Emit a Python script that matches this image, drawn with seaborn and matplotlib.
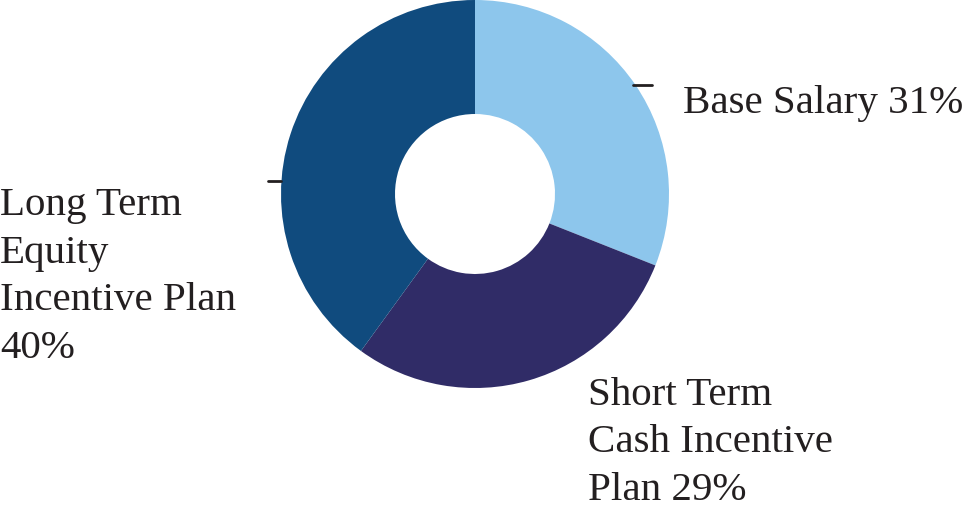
import matplotlib.pyplot as plt
import seaborn as sns

labels = ['Base Salary 31%', 'Short Term\nCash Incentive\nPlan 29%', 'Long Term\nEquity\nIncentive Plan\n40%']
shares = [31, 29, 40]
colors = ['#8DC6EC', '#302C67', '#104B7E']

sns.set_theme(style='white')
plt.rcParams['font.family'] = ['Liberation Serif', 'DejaVu Serif']

W, H = 968, 515
fig = plt.figure(figsize=(W / 100, H / 100), dpi=100)
ax = fig.add_axes([0, 0, 1, 1])

cx, cy, r = 475, H - 194, 194
ax.pie(shares, colors=colors, startangle=90, counterclock=False,
       center=(cx, cy), radius=r, frame=True,
       wedgeprops=dict(width=r - 80, linewidth=0))
ax.set_xlim(0, W)
ax.set_ylim(0, H)
ax.set_aspect('equal')
ax.axis('off')

# label text and small leader ticks
txt = dict(fontsize=29.5, color='#231F20', ha='left', va='baseline', linespacing=1.38)
ax.text(683, H - 113, labels[0], **txt)
ax.text(588, H - 500, labels[1], **txt)
ax.text(0, H - 358, labels[2], **txt)
ax.plot([633, 652], [H - 85, H - 85], color='#231F20', lw=2)
ax.plot([268, 281], [H - 181, H - 181], color='#231F20', lw=2)

fig.savefig('out.png', dpi=100)
